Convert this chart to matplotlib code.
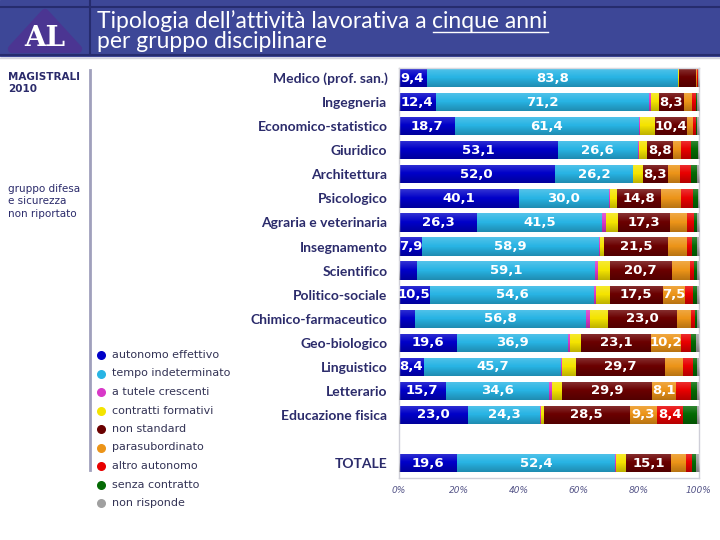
import numpy as np
import matplotlib
matplotlib.use("agg")
import matplotlib.pyplot as plt
from matplotlib.patches import Rectangle, Polygon

# data
categories = ["Medico (prof. san.)", "Ingegneria", "Economico-statistico", "Giuridico",
              "Architettura", "Psicologico", "Agraria e veterinaria", "Insegnamento",
              "Scientifico", "Politico-sociale", "Chimico-farmaceutico", "Geo-biologico",
              "Linguistico", "Letterario", "Educazione fisica", "TOTALE"]
positions = list(range(15)) + [16]

autonomo = [9.4, 12.4, 18.7, 53.1, 52.0, 40.1, 26.3, 7.9, 6.3, 10.5, 5.6, 19.6, 8.4, 15.7, 23.0, 19.6]
tempo_ind = [83.8, 71.2, 61.4, 26.6, 26.2, 30.0, 41.5, 58.9, 59.1, 54.6, 56.8, 36.9, 45.7, 34.6, 24.3, 52.4]
tutele = [0.1, 0.5, 0.3, 0.3, 0.1, 0.3, 1.2, 0.2, 1.0, 0.7, 1.3, 0.8, 0.5, 0.7, 0.2, 0.5]
formativi = [0.3, 2.7, 5.2, 2.7, 3.2, 2.4, 4.1, 1.4, 4.0, 4.7, 6.1, 3.6, 4.6, 3.6, 1.0, 3.3]
non_standard = [5.5, 8.3, 10.4, 8.8, 8.3, 14.8, 17.3, 21.5, 20.7, 17.5, 23.0, 23.1, 29.7, 29.9, 28.5, 15.1]
parasub = [0.4, 2.6, 2.0, 2.5, 3.9, 6.4, 5.6, 6.3, 6.1, 7.5, 4.8, 10.2, 5.9, 8.1, 9.3, 4.8]
altro_aut = [0.3, 1.3, 1.1, 3.6, 3.9, 4.2, 2.4, 1.7, 1.2, 2.6, 1.3, 3.3, 3.3, 4.8, 8.4, 2.1]
senza = [0.1, 0.5, 0.5, 2.1, 1.8, 1.5, 1.2, 1.6, 1.0, 1.3, 0.5, 1.6, 1.4, 2.1, 4.9, 1.3]
non_risp = [0.1, 0.5, 0.4, 0.3, 0.6, 0.3, 0.4, 0.5, 0.6, 0.6, 0.6, 0.9, 0.5, 0.5, 0.4, 0.9]

series = [autonomo, tempo_ind, tutele, formativi, non_standard, parasub, altro_aut, senza, non_risp]
series_names = ["autonomo effettivo", "tempo indeterminato", "a tutele crescenti",
                "contratti formativi", "non standard", "parasubordinato",
                "altro autonomo", "senza contratto", "non risponde"]
colors = ["#0000c8", "#28b4e4", "#d838c8", "#f4e400", "#6a0000",
          "#ec9418", "#e80000", "#046a04", "#a0a0a0"]

navy = "#2b2b6b"

fig = plt.figure(figsize=(7.2, 5.4), dpi=100)

# header band
hdr = fig.add_axes([0, 0, 1, 1], zorder=0)
hdr.set_xlim(0, 720)
hdr.set_ylim(540, 0)
hdr.axis("off")
hdr.add_patch(Rectangle((0, 0), 720, 56, color="#3d4797"))
hdr.plot([0, 720], [7, 7], color="#262c6e", lw=1.5)
hdr.plot([0, 720], [55, 55], color="#262c6e", lw=1.5)
hdr.plot([0, 720], [58, 58], color="#d4d4dc", lw=1.0)
hdr.plot([90, 90], [0, 55], color="#262c6e", lw=1.5)
hdr.add_patch(Polygon([[45, 13], [78, 49], [12, 49]], closed=True,
                      facecolor="#4b3592", edgecolor="#4b3592", joinstyle="round", lw=6))
hdr.text(45, 39, "AL", color="white", fontsize=20, fontweight="bold",
         family="DejaVu Serif", ha="center", va="center")
# left panel
hdr.plot([90, 90], [70, 470], color="#a0a0bc", lw=2)
hdr.text(8, 72, "MAGISTRALI\n2010", color=navy, fontsize=7.5, fontweight="bold",
         va="top", ha="left", linespacing=1.25)
hdr.text(8, 184, "gruppo difesa\ne sicurezza\nnon riportato", color=navy, fontsize=7.5,
         va="top", ha="left", linespacing=1.3)

# title with underlined part
fig.canvas.draw()
r = fig.canvas.get_renderer()
tsize = 16.5
t1 = hdr.text(97, 21, "Tipologia dell\u2019attività lavorativa a ", color="white",
              fontsize=tsize, family="Lato", va="center", ha="left")
bb = t1.get_window_extent(r)
x_end = hdr.transData.inverted().transform((bb.x1, bb.y0))[0]
t2 = hdr.text(x_end, 21, "cinque anni", color="white", fontsize=tsize, family="Lato",
              va="center", ha="left")
bb2 = t2.get_window_extent(r)
x2 = hdr.transData.inverted().transform((bb2.x1, bb2.y0))[0]
hdr.plot([x_end, x2], [31.5, 31.5], color="white", lw=1)
hdr.text(97, 42, "per gruppo disciplinare", color="white", fontsize=tsize, family="Lato",
         va="center", ha="left")

# legend
for i, (name, c) in enumerate(zip(series_names, colors)):
    y = 355 + i * 18.5
    hdr.scatter([101], [y], s=30, color=c, zorder=3)
    hdr.text(112, y, name, color="#333355", fontsize=8, va="center", ha="left")

# chart
ax = fig.add_axes([0.5535, 0.1148, 0.4167, 0.7593], zorder=2)
left = np.zeros(len(categories))
h = 0.76
for vals, c in zip(series, colors):
    ax.barh(positions, vals, left=left, height=h, color=c, edgecolor="none")
    for p, l, v in zip(positions, left, vals):
        if v >= 7:
            ax.text(l + v / 2, p, f"{v:.1f}".replace(".", ","), color="white",
                    fontsize=9.5, fontweight="bold", ha="center", va="center", zorder=5)
    left += np.array(vals)

# subtle vertical shading on bars
grad = np.zeros((20, 1, 4))
shade = np.linspace(0.2, -0.22, 20)
for k, s in enumerate(shade):
    if s > 0:
        grad[k, 0] = [1, 1, 1, s]
    else:
        grad[k, 0] = [0, 0, 0, -s]
for p, tot in zip(positions, left):
    ax.imshow(grad, extent=(0, tot, p + h / 2, p - h / 2), aspect="auto", zorder=3,
              interpolation="bilinear")

ax.set_xlim(0, 100)
ax.set_ylim(16.62, -0.42)
ax.set_yticks(positions)
ax.set_yticklabels(categories, fontsize=10, fontweight="bold", color=navy, family="Lato")
ax.set_xticks([0, 20, 40, 60, 80, 100])
ax.set_xticklabels(["0%", "20%", "40%", "60%", "80%", "100%"], fontsize=6.5,
                   style="italic", color="#555588")
ax.tick_params(length=0)
ax.tick_params(axis="y", pad=8)
ax.tick_params(axis="x", pad=6)
for s in ax.spines.values():
    s.set_color("#cfcfd8")
    s.set_linewidth(1)

fig.savefig("out.png", dpi=100)
plt.close(fig)
